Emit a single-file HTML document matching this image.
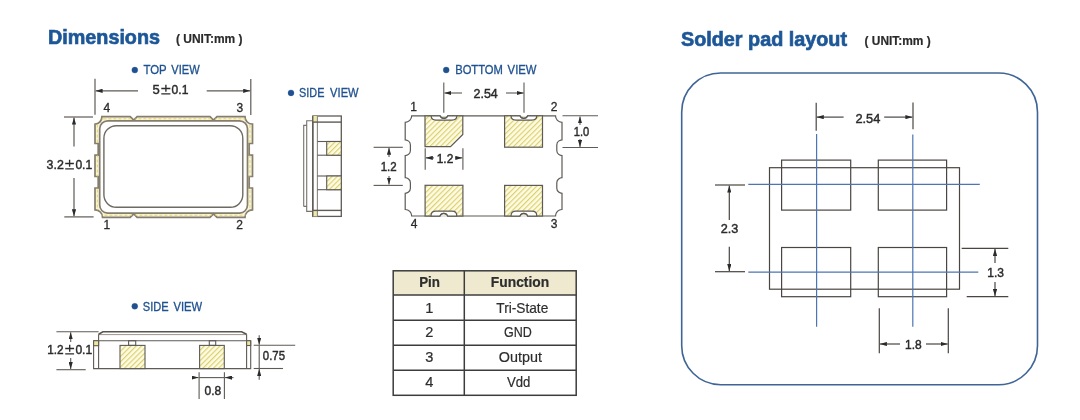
<!DOCTYPE html>
<html><head><meta charset="utf-8">
<style>
html,body{margin:0;padding:0;background:#fff;width:1080px;height:420px;overflow:hidden}
svg{display:block;will-change:transform}
text{font-family:"Liberation Sans",sans-serif}
</style></head>
<body>
<svg width="1080" height="420" viewBox="0 0 1080 420">
<defs>
<pattern id="h" patternUnits="userSpaceOnUse" width="3.7" height="3.7" patternTransform="rotate(45)">
<rect width="3.7" height="3.7" fill="#fdfbe6"/>
<rect x="0" y="0" width="1.15" height="3.7" fill="#dcd168"/>
</pattern>
<marker id="ar" viewBox="0 0 10 6" refX="10" refY="3" markerWidth="7" markerHeight="4.2" orient="auto-start-reverse" markerUnits="userSpaceOnUse">
<path d="M0,0 L10,3 L0,6 Z" fill="#2b2b2b"/>
</marker>
<clipPath id="fc"><path d="M101.9,116.7 H130.2 L133.8,120.2 L137.1,116.7 H210 L213.5,120.2 L217,116.7 H245 A7.5 7.5 0 0 0 252.5,124.2 V143.5 H249.2 V155.2 H252.5 V176.5 H249.2 V188 H252.5 V209.8 A7.5 7.5 0 0 0 245,217.3 H217 L213.5,213.8 L210,217.3 H137.1 L133.8,213.8 L130.2,217.3 H102.5 A7.5 7.5 0 0 0 95,209.8 V188 H98.2 V176.5 H95 V155.2 H98.2 V143.5 H95 V124.2 A7.5 7.5 0 0 0 101.9,116.7 Z"/></clipPath>
</defs>
<rect width="1080" height="420" fill="#fff"/>

<!-- Titles -->
<text x="48" y="44" font-size="21" font-weight="bold" fill="#1d5797" stroke="#1d5797" stroke-width="0.7" textLength="112" lengthAdjust="spacingAndGlyphs">Dimensions</text>
<text x="176" y="43.1" font-size="12.8" font-weight="bold" fill="#2a2a2a" stroke="#2a2a2a" stroke-width="0.2" textLength="66.5" lengthAdjust="spacingAndGlyphs">( UNIT:mm )</text>
<text x="681" y="46" font-size="21" font-weight="bold" fill="#1d5797" stroke="#1d5797" stroke-width="0.7" textLength="166" lengthAdjust="spacingAndGlyphs">Solder pad layout</text>
<text x="864.5" y="45" font-size="12.8" font-weight="bold" fill="#2a2a2a" stroke="#2a2a2a" stroke-width="0.2" textLength="66.2" lengthAdjust="spacingAndGlyphs">( UNIT:mm )</text>

<!-- view labels -->
<g fill="#1f5190" stroke="#1f5190" stroke-width="0.3">
<circle cx="134.8" cy="70.1" r="3"/>
<text x="143.4" y="74.25" font-size="12" textLength="23.2" lengthAdjust="spacingAndGlyphs">TOP</text><text x="171.3" y="74.25" font-size="12" textLength="28.4" lengthAdjust="spacingAndGlyphs">VIEW</text>
<circle cx="291" cy="92.9" r="3"/>
<text x="299.1" y="97.1" font-size="12" textLength="25.3" lengthAdjust="spacingAndGlyphs">SIDE</text><text x="330.1" y="97.1" font-size="12" textLength="28.5" lengthAdjust="spacingAndGlyphs">VIEW</text>
<circle cx="446.2" cy="70" r="3"/>
<text x="455.2" y="74.3" font-size="12" textLength="47.7" lengthAdjust="spacingAndGlyphs">BOTTOM</text><text x="507.6" y="74.3" font-size="12" textLength="28.9" lengthAdjust="spacingAndGlyphs">VIEW</text>
<circle cx="134.75" cy="306.3" r="3"/>
<text x="142.8" y="310.5" font-size="12" textLength="25.8" lengthAdjust="spacingAndGlyphs">SIDE</text><text x="173.5" y="310.5" font-size="12" textLength="28.7" lengthAdjust="spacingAndGlyphs">VIEW</text>
</g>

<!-- ============ TOP VIEW ============ -->
<g stroke="#5e5a55" stroke-width="1.2" fill="none">
<line x1="95" y1="78.7" x2="95" y2="114.7"/>
<line x1="250.8" y1="79" x2="250.8" y2="115"/>
<line x1="138" y1="90.8" x2="95.6" y2="90.8" marker-end="url(#ar)"/>
<line x1="206.7" y1="90.8" x2="250.2" y2="90.8" marker-end="url(#ar)"/>
<line x1="64" y1="117" x2="93" y2="117"/>
<line x1="64.3" y1="216.9" x2="93.6" y2="216.9"/>
<line x1="74" y1="146.5" x2="74" y2="117.6" marker-end="url(#ar)"/>
<line x1="74" y1="178" x2="74" y2="216.3" marker-end="url(#ar)"/>
</g>
<g fill="#2b2b2b" stroke="#2b2b2b" stroke-width="0.45" font-size="13">
<text x="152.6" y="94.4">5</text><path d="M165.9,84.8 V91.8 M161.3,88.5 H170.4 M161.3,93.9 H170.4" stroke="#2b2b2b" stroke-width="1.35" fill="none"/><text x="171.6" y="94.4" textLength="16.8" lengthAdjust="spacingAndGlyphs">0.1</text>
<text x="46.6" y="169.4" textLength="17.2" lengthAdjust="spacingAndGlyphs">3.2</text><path d="M69.6,159.8 V166.8 M65.2,163.5 H73.9 M65.2,168.9 H73.9" stroke="#2b2b2b" stroke-width="1.35" fill="none"/><text x="75.4" y="169.4" textLength="16.8" lengthAdjust="spacingAndGlyphs">0.1</text>
</g>
<g fill="#2b2b2b" stroke="#2b2b2b" stroke-width="0.3" font-size="12" text-anchor="middle">
<text x="106.9" y="112">4</text>
<text x="239.9" y="112">3</text>
<text x="106.8" y="229.3">1</text>
<text x="239.7" y="228.6">2</text>
</g>
<path d="M101.9,116.7 H130.2 L133.8,120.2 L137.1,116.7 H210 L213.5,120.2 L217,116.7 H245 A7.5 7.5 0 0 0 252.5,124.2 V143.5 H249.2 V155.2 H252.5 V176.5 H249.2 V188 H252.5 V209.8 A7.5 7.5 0 0 0 245,217.3 H217 L213.5,213.8 L210,217.3 H137.1 L133.8,213.8 L130.2,217.3 H102.5 A7.5 7.5 0 0 0 95,209.8 V188 H98.2 V176.5 H95 V155.2 H98.2 V143.5 H95 V124.2 A7.5 7.5 0 0 0 101.9,116.7 Z" fill="#f8f4dc" stroke="#857d6d" stroke-width="1.7"/>
<rect x="99.7" y="120.8" width="147.8" height="92.3" rx="8" fill="#fff" stroke="#857d6d" stroke-width="1.7"/>
<rect x="97.35" y="118.75" width="152.6" height="96.5" rx="6" fill="none" stroke="#e2d35c" stroke-width="0.9" stroke-dasharray="3 2" clip-path="url(#fc)"/>
<rect x="103.9" y="125.7" width="138.9" height="81.6" rx="12.5" fill="#fff" stroke="#6f6a62" stroke-width="1.4"/>

<!-- ============ SIDE VIEW (top) ============ -->
<g stroke="#5e5a55" stroke-width="1.1" fill="none">
<path d="M303.7,206.4 V125.4 H306.7 V120.7 H312.8 M306.7,125.4 V211.4 H312.8 M303.7,206.4 H306.7" stroke="#77726c"/>
<rect x="312.8" y="116" width="28.5" height="100.4" fill="#fff" stroke-width="1.3"/>
<rect x="312.8" y="116" width="4.6" height="6" fill="#f1e9a8" stroke="none"/>
<rect x="312.8" y="210.4" width="4.6" height="6" fill="#f1e9a8" stroke="none"/>
<line x1="312.8" y1="116" x2="312.8" y2="216.4" stroke-width="1.3"/>
<line x1="317.4" y1="116" x2="317.4" y2="216.4" stroke="#8a8580"/>
<line x1="312.8" y1="122.1" x2="341.3" y2="122.1" stroke-width="1.4"/>
<line x1="312.8" y1="210.4" x2="341.3" y2="210.4" stroke-width="1.4"/>
<line x1="317.4" y1="141.5" x2="341.3" y2="141.5"/>
<line x1="317.4" y1="155.2" x2="341.3" y2="155.2"/>
<line x1="317.4" y1="176" x2="341.3" y2="176"/>
<line x1="317.4" y1="189.7" x2="341.3" y2="189.7"/>
<rect x="326.7" y="141.5" width="14.6" height="13.7" fill="url(#h)"/>
<rect x="326.7" y="176" width="14.6" height="13.7" fill="url(#h)"/>
</g>

<!-- ============ BOTTOM VIEW ============ -->
<path d="M411.7,115.8 H555.5 A6.5 6.5 0 0 0 562.0,122.3 V139.9 C560.0,140.1 556.8,141.6 556.8,144.9 V150.6 C556.8,153.9 560.0,155.4 562.0,155.6 V177.7 C560.0,177.8 556.8,179.3 556.8,182.7 V188.3 C556.8,191.7 560.0,193.2 562.0,193.3 V209.5 A6.5 6.5 0 0 0 555.5,216.0 H411.7 A6.5 6.5 0 0 0 405.2,209.5 V193.3 C407.2,193.2 410.4,191.7 410.4,188.3 V182.7 C410.4,179.3 407.2,177.8 405.2,177.7 V155.6 C407.2,155.4 410.4,153.9 410.4,150.6 V144.9 C410.4,141.6 407.2,140.1 405.2,139.9 V122.3 A6.5 6.5 0 0 0 411.7,115.8 Z" fill="#fff" stroke="#5e5a55" stroke-width="1.2"/>
<g stroke="#5e5a55" stroke-width="1.2">
<path d="M425,115.8 H462.8 V134.5 L450.5,146.6 H425 Z" fill="url(#h)"/>
<rect x="504.6" y="115.8" width="37.9" height="31.4" fill="url(#h)"/>
<rect x="425.1" y="185.3" width="37.8" height="30.7" fill="url(#h)"/>
<rect x="504.6" y="185.4" width="37.9" height="30.6" fill="url(#h)"/>
</g>
<g stroke="#5e5a55" stroke-width="1.2" fill="#fff">
<path d="M431.1,115.8 C431.1,119.1 433.0,120.1 436.0,120.1 H452.0 C455.0,120.1 456.9,119.1 456.9,115.8 H447.7 C446.3,119.2 441.5,119.2 440.1,115.8 Z"/><line x1="440.6" y1="115.8" x2="447.2" y2="115.8" stroke="#fff" stroke-width="1.6"/><path d="M447.7,115.8 C446.3,119.2 441.5,119.2 440.1,115.8" fill="none"/>
<path d="M511.0,115.8 C511.0,119.1 512.9,120.1 515.9,120.1 H531.9 C534.9,120.1 536.8,119.1 536.8,115.8 H527.6 C526.2,119.2 521.4,119.2 520.0,115.8 Z"/><line x1="520.5" y1="115.8" x2="527.1" y2="115.8" stroke="#fff" stroke-width="1.6"/><path d="M527.6,115.8 C526.2,119.2 521.4,119.2 520.0,115.8" fill="none"/>
<path d="M431.0,216.0 C431.0,212.5 432.9,211.2 435.9,211.2 H451.9 C454.9,211.2 456.8,212.5 456.8,216.0 H447.6 C446.2,212.4 441.4,212.4 440.0,216.0 Z"/><line x1="440.5" y1="216.0" x2="447.1" y2="216.0" stroke="#fff" stroke-width="1.6"/><path d="M447.6,216.0 C446.2,212.4 441.4,212.4 440.0,216.0" fill="none"/>
<path d="M511.0,216.0 C511.0,212.5 512.9,211.2 515.9,211.2 H531.9 C534.9,211.2 536.8,212.5 536.8,216.0 H527.6 C526.2,212.4 521.4,212.4 520.0,216.0 Z"/><line x1="520.5" y1="216.0" x2="527.1" y2="216.0" stroke="#fff" stroke-width="1.6"/><path d="M527.6,216.0 C526.2,212.4 521.4,212.4 520.0,216.0" fill="none"/>
</g>
<g stroke="#5e5a55" stroke-width="1.1" fill="none">
<line x1="443.8" y1="82.5" x2="443.8" y2="112.7"/>
<line x1="524.0" y1="82.5" x2="524.0" y2="112.7"/>
<line x1="462" y1="93" x2="444.4" y2="93" marker-end="url(#ar)"/>
<line x1="506" y1="93" x2="523.7" y2="93" marker-end="url(#ar)"/>
<line x1="562.5" y1="115.8" x2="598" y2="115.8"/>
<line x1="562.5" y1="147.5" x2="598" y2="147.5"/>
<line x1="580" y1="125" x2="580" y2="116.4" marker-end="url(#ar)"/>
<line x1="580" y1="139" x2="580" y2="146.9" marker-end="url(#ar)"/>
<line x1="373.6" y1="147.3" x2="402.8" y2="147.3"/>
<line x1="373.6" y1="185.4" x2="402.8" y2="185.4"/>
<line x1="389" y1="157" x2="389" y2="147.7" marker-end="url(#ar)"/>
<line x1="389" y1="176" x2="389" y2="184.6" marker-end="url(#ar)"/>
<line x1="425.2" y1="148.3" x2="425.2" y2="169.8"/>
<line x1="462.9" y1="148.3" x2="462.9" y2="169.8"/>
<line x1="434" y1="157.9" x2="425.8" y2="157.9" marker-end="url(#ar)"/>
<line x1="455" y1="157.9" x2="462.3" y2="157.9" marker-end="url(#ar)"/>
</g>
<g fill="#2b2b2b" stroke="#2b2b2b" stroke-width="0.45" font-size="13">
<text x="473.5" y="97.5" textLength="24.3" lengthAdjust="spacingAndGlyphs">2.54</text>
<text x="573.7" y="136.4" textLength="15.5" lengthAdjust="spacingAndGlyphs">1.0</text>
<text x="380.7" y="171" textLength="16" lengthAdjust="spacingAndGlyphs">1.2</text>
<text x="436.7" y="162.6" textLength="16.6" lengthAdjust="spacingAndGlyphs">1.2</text>
</g>
<g fill="#2b2b2b" stroke="#2b2b2b" stroke-width="0.3" font-size="12" text-anchor="middle">
<text x="413.5" y="110.8">1</text>
<text x="554.2" y="110.8">2</text>
<text x="414" y="228">4</text>
<text x="554.1" y="227.5">3</text>
</g>

<!-- ============ SIDE VIEW (bottom) ============ -->
<g stroke="#5e5a55" stroke-width="1.1" fill="none">
<line x1="56.4" y1="331.7" x2="98.6" y2="331.7"/>
<line x1="56.4" y1="369.7" x2="85.7" y2="369.7"/>
<line x1="70.7" y1="342" x2="70.7" y2="332.3" marker-end="url(#ar)"/>
<line x1="70.7" y1="358" x2="70.7" y2="369.1" marker-end="url(#ar)"/>
<path d="M98.6,334.3 V368.6 M93.6,340.7 V368.6 H250.7 V340.7 M93.6,340.7 H250.7 M98.6,334.3 V368.6 M246.6,334.3 V368.6"/>
<path d="M98.6,334.6 H246.6" stroke="#8e8983" stroke-width="0.9"/>
<path d="M98.6,334.3 L102.9,331.8 H241.6 L246.6,334.3" stroke="#5a5550" stroke-width="1.6"/>
<rect x="93.6" y="340.7" width="5" height="5" fill="#efe6a2"/>
<rect x="246.6" y="340.7" width="4.1" height="4.8" fill="#efe6a2"/>
<rect x="120" y="345.4" width="25" height="23.2" fill="url(#h)"/>
<rect x="199.6" y="345.4" width="24.7" height="23.2" fill="url(#h)"/>
<rect x="128.6" y="340.7" width="7.1" height="4.7"/>
<rect x="209.3" y="340.7" width="6.4" height="4.7"/>
<line x1="253.7" y1="345.3" x2="295.2" y2="345.3"/>
<line x1="253.7" y1="368.5" x2="283" y2="368.5"/>
<line x1="259.2" y1="335.2" x2="259.2" y2="344.7" marker-end="url(#ar)"/>
<line x1="259.2" y1="368.5" x2="259.2" y2="345.3"/>
<line x1="259.2" y1="379.7" x2="259.2" y2="369.1" marker-end="url(#ar)"/>
<line x1="199.1" y1="372.2" x2="199.1" y2="398.9"/>
<line x1="224.4" y1="372.2" x2="224.4" y2="398.9"/>
<line x1="192" y1="377.6" x2="198.5" y2="377.6" marker-end="url(#ar)"/>
<line x1="199.1" y1="377.6" x2="224.4" y2="377.6"/>
<line x1="233.5" y1="377.6" x2="225" y2="377.6" marker-end="url(#ar)"/>
</g>
<g fill="#2b2b2b" stroke="#2b2b2b" stroke-width="0.45" font-size="13">
<text x="47.2" y="354.4" textLength="16.4" lengthAdjust="spacingAndGlyphs">1.2</text><path d="M69.7,344.8 V351.8 M65.2,348.5 H74.1 M65.2,353.9 H74.1" stroke="#2b2b2b" stroke-width="1.35" fill="none"/><text x="75.4" y="354.4" textLength="16.8" lengthAdjust="spacingAndGlyphs">0.1</text>
<text x="262.8" y="360.4" textLength="22.2" lengthAdjust="spacingAndGlyphs">0.75</text>
<text x="204.6" y="394.8" textLength="16.7" lengthAdjust="spacingAndGlyphs">0.8</text>
</g>

<!-- ============ TABLE ============ -->
<rect x="393.2" y="270.8" width="183" height="24.2" fill="#efe9cf"/>
<g stroke="#3c3c3c" stroke-width="1.5" fill="none">
<rect x="393.2" y="270.8" width="183" height="124.5"/>
<line x1="464.3" y1="270.8" x2="464.3" y2="395.3"/>
<line x1="393.2" y1="295" x2="576.2" y2="295"/>
<line x1="393.2" y1="320.3" x2="576.2" y2="320.3"/>
<line x1="393.2" y1="345.3" x2="576.2" y2="345.3"/>
<line x1="393.2" y1="370.2" x2="576.2" y2="370.2"/>
</g>
<g fill="#2e2e2e" stroke="#2e2e2e" stroke-width="0.2" font-size="14.6" text-anchor="middle">
<text x="429.6" y="287.2" font-weight="bold" textLength="20.8" lengthAdjust="spacingAndGlyphs">Pin</text>
<text x="520" y="287.2" font-weight="bold" textLength="58.4" lengthAdjust="spacingAndGlyphs">Function</text>
<text x="429.2" y="312.5">1</text>
<text x="429.2" y="337.3">2</text>
<text x="429.2" y="362.3">3</text>
<text x="429.2" y="387.2">4</text>
<text x="522.3" y="312.5" textLength="52" lengthAdjust="spacingAndGlyphs">Tri-State</text>
<text x="517.9" y="337.3" textLength="27.8" lengthAdjust="spacingAndGlyphs">GND</text>
<text x="520.4" y="362.3" textLength="43.1" lengthAdjust="spacingAndGlyphs">Output</text>
<text x="518.6" y="387.2" textLength="23.4" lengthAdjust="spacingAndGlyphs">Vdd</text>
</g>

<!-- ============ SOLDER PAD LAYOUT ============ -->
<rect x="681.7" y="73" width="355.8" height="311.7" rx="39" fill="#fff" stroke="#3f6597" stroke-width="1.6"/>
<g stroke="#4a4542" stroke-width="1.2" fill="none">
<rect x="769.5" y="167.7" width="190" height="121.5"/>
<rect x="781.6" y="160.1" width="69.1" height="50"/>
<rect x="878.3" y="160.1" width="68.3" height="50"/>
<rect x="781.6" y="247.5" width="69.1" height="49.2"/>
<rect x="878.3" y="247.5" width="68.3" height="49.2"/>
</g>
<g stroke="#4c75b3" stroke-width="1.2">
<line x1="816.6" y1="134" x2="816.6" y2="326.7"/>
<line x1="912.8" y1="134.5" x2="912.8" y2="326.7"/>
<line x1="748.3" y1="184.3" x2="979.8" y2="184.3"/>
<line x1="748.3" y1="272.2" x2="978.3" y2="272.2"/>
</g>
<g stroke="#4a4542" stroke-width="1.2" fill="none">
<line x1="816.2" y1="102.8" x2="816.2" y2="130.7"/>
<line x1="913" y1="102.6" x2="913" y2="129.3"/>
<line x1="843.6" y1="117.1" x2="816.8" y2="117.1" marker-end="url(#ar)"/>
<line x1="884.2" y1="117.1" x2="912.4" y2="117.1" marker-end="url(#ar)"/>
<line x1="715" y1="185" x2="745" y2="185"/>
<line x1="715" y1="271.7" x2="745" y2="271.7"/>
<line x1="729.3" y1="220" x2="729.3" y2="185.6" marker-end="url(#ar)"/>
<line x1="729.3" y1="246.7" x2="729.3" y2="271.1" marker-end="url(#ar)"/>
<line x1="961.7" y1="248.3" x2="1008.3" y2="248.3"/>
<line x1="966.7" y1="296.7" x2="1008.3" y2="296.7"/>
<line x1="995" y1="263" x2="995" y2="248.9" marker-end="url(#ar)"/>
<line x1="995" y1="282" x2="995" y2="296.1" marker-end="url(#ar)"/>
<line x1="879.3" y1="308.3" x2="879.3" y2="353.3"/>
<line x1="948.3" y1="308.3" x2="948.3" y2="353.3"/>
<line x1="900" y1="344" x2="879.9" y2="344" marker-end="url(#ar)"/>
<line x1="926" y1="344" x2="947.7" y2="344" marker-end="url(#ar)"/>
</g>
<g fill="#2b2b2b" stroke="#2b2b2b" stroke-width="0.45" font-size="13">
<text x="855.4" y="122.7" textLength="25" lengthAdjust="spacingAndGlyphs">2.54</text>
<text x="720.7" y="233.3" textLength="17.6" lengthAdjust="spacingAndGlyphs">2.3</text>
<text x="987.3" y="277.3" textLength="16.7" lengthAdjust="spacingAndGlyphs">1.3</text>
<text x="905" y="349" textLength="16.7" lengthAdjust="spacingAndGlyphs">1.8</text>
</g>
</svg>
</body></html>
